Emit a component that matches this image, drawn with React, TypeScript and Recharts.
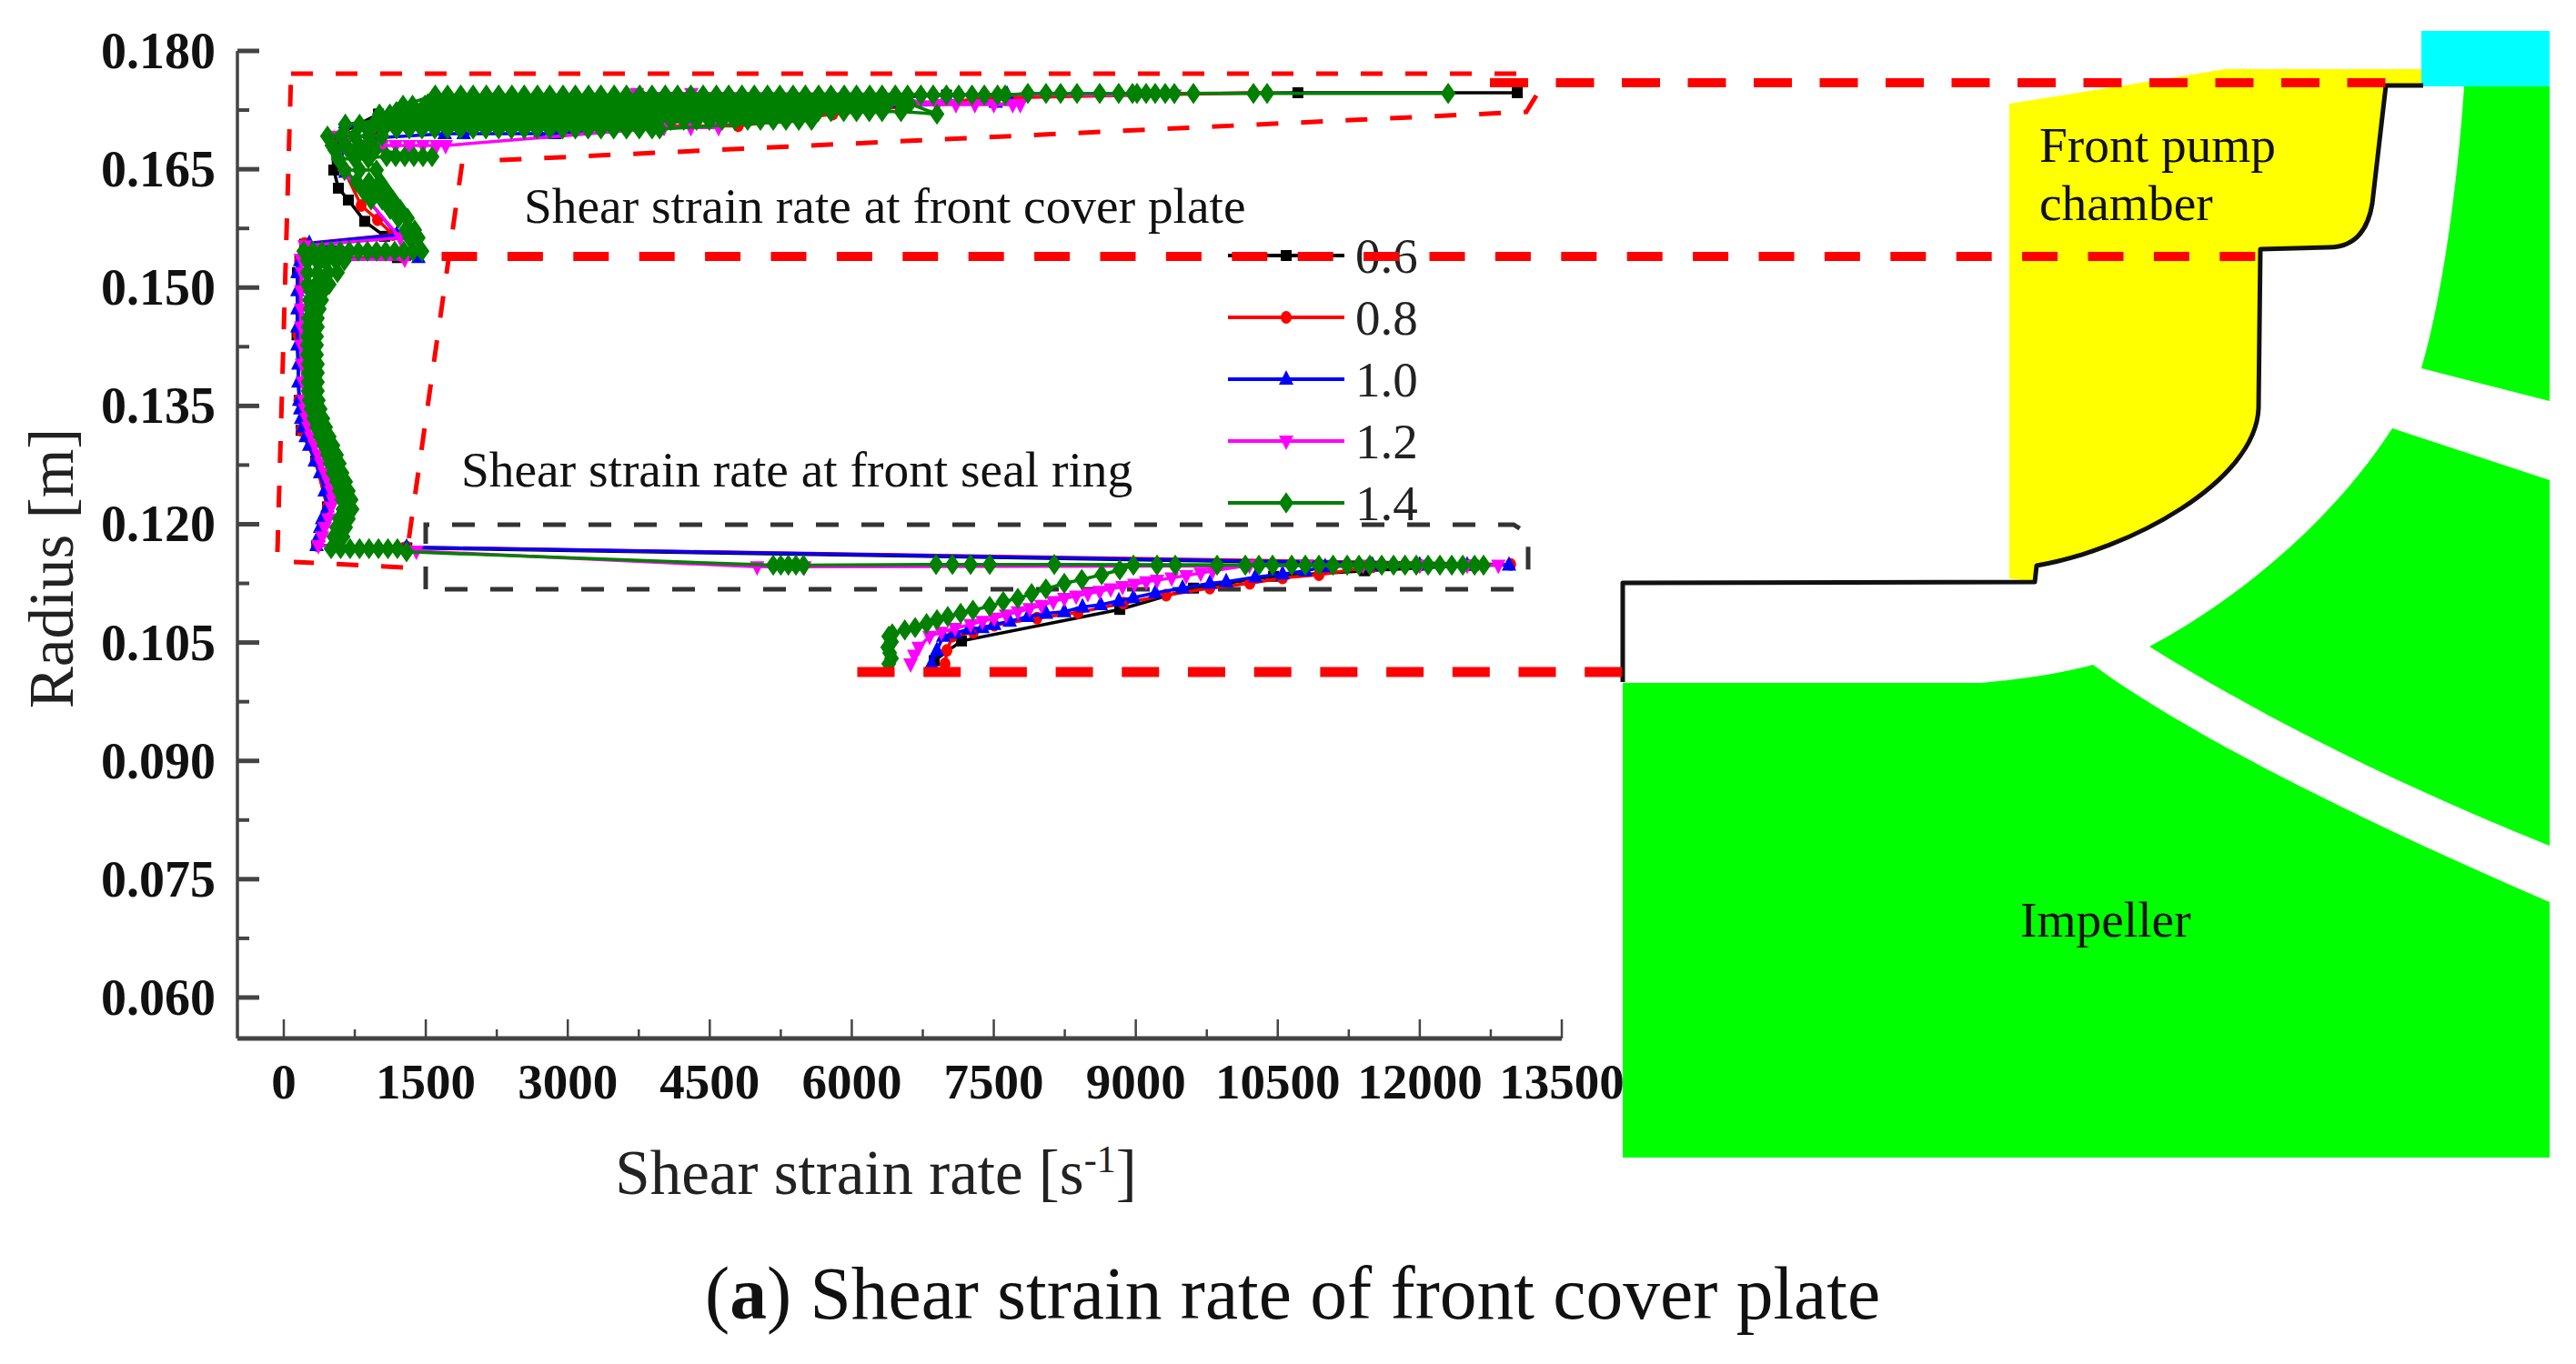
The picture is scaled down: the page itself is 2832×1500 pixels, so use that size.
import React from 'react'
import { ScatterChart, Scatter, XAxis, YAxis, Legend } from 'recharts'

// axis values
const xTicks = [0, 750, 1500, 2250, 3000, 3750, 4500, 5250, 6000, 6750, 7500, 8250, 9000, 9750, 10500, 11250, 12000, 12750, 13500]
const yTicks = [0.06, 0.0675, 0.075, 0.0825, 0.09, 0.0975, 0.105, 0.1125, 0.12, 0.1275, 0.135, 0.1425, 0.15, 0.1575, 0.165, 0.1725, 0.18]

// speed ratio series
const shear06 = [6871, 7159, 8831, 9609, 10455, 11416, 12569, 1300, 346, 461, 336, 183, 163, 140, 144, 170, 1200, 220, 1066, 855, 682, 577, 528, 509, 1000, 5000, 7000, 10712, 13030]
const radius06 = [0.1027, 0.1052, 0.1092, 0.1119, 0.1134, 0.1141, 0.1148, 0.117, 0.1173, 0.1222, 0.128, 0.1319, 0.1357, 0.144, 0.1519, 0.1536, 0.1538, 0.1555, 0.1565, 0.1584, 0.1611, 0.1626, 0.1649, 0.169, 0.172, 0.1735, 0.1744, 0.1747, 0.1747]

const shear08 = [6985, 7005, 7063, 7284, 7505, 7956, 8389, 8869, 9321, 9782, 10205, 10551, 10935, 11500, 12000, 12500, 12960, 1297, 346, 461, 336, 183, 160, 150, 170, 1260, 220, 1153, 990, 817, 650, 560, 1000, 3730, 4800, 5800, 7400, 10243, 10387]
const radius08 = [0.1023, 0.104, 0.1058, 0.1063, 0.1072, 0.1081, 0.1088, 0.11, 0.111, 0.1119, 0.1125, 0.1132, 0.1136, 0.1146, 0.1148, 0.1148, 0.1149, 0.1171, 0.1173, 0.1222, 0.128, 0.1319, 0.1357, 0.144, 0.1534, 0.1539, 0.1556, 0.1567, 0.1586, 0.1604, 0.1646, 0.168, 0.17, 0.1705, 0.1705, 0.172, 0.174, 0.1747, 0.1747]

const shear10 = [6842, 6899, 6966, 7091, 7235, 7380, 7505, 7668, 7860, 8052, 8245, 8437, 8629, 8821, 8975, 9206, 9494, 9782, 9955, 10263, 10551, 10791, 11000, 11500, 12000, 12500, 12943, 1297, 346, 365, 384, 404, 461, 432, 384, 327, 269, 231, 202, 183, 173, 163, 154, 154, 144, 144, 144, 144, 144, 173, 1422, 269, 1192, 650, 600, 650, 1000, 1700, 1900, 2700, 2860, 4300, 6000, 7520, 7640]
const radius10 = [0.1023, 0.104, 0.1058, 0.1062, 0.1067, 0.1069, 0.1073, 0.1077, 0.1083, 0.1087, 0.1089, 0.1095, 0.1098, 0.1103, 0.1107, 0.1113, 0.1119, 0.1125, 0.1127, 0.1133, 0.1137, 0.1141, 0.1146, 0.1148, 0.1148, 0.1148, 0.1148, 0.1171, 0.1173, 0.1184, 0.1196, 0.1207, 0.1222, 0.1242, 0.1265, 0.128, 0.13, 0.1311, 0.1323, 0.1334, 0.1346, 0.1357, 0.138, 0.1403, 0.1427, 0.145, 0.1473, 0.1496, 0.1519, 0.1534, 0.1538, 0.1556, 0.1567, 0.1646, 0.168, 0.1709, 0.169, 0.1695, 0.1695, 0.1695, 0.1695, 0.1712, 0.1728, 0.1735, 0.1745]

const shear12 = [6621, 6660, 6707, 6822, 6947, 7091, 7255, 7380, 7505, 7629, 7754, 7879, 8004, 8129, 8245, 8370, 8494, 8619, 8735, 8860, 8985, 9110, 9225, 9379, 9533, 9686, 9811, 10200, 10800, 11400, 12000, 12500, 12830, 5500, 5000, 1400, 365, 404, 432, 471, 500, 519, 500, 471, 432, 394, 365, 327, 288, 259, 240, 221, 211, 202, 192, 183, 183, 183, 183, 192, 183, 1278, 221, 1230, 640, 560, 500, 1038, 1182, 1326, 1470, 1614, 1710, 4017, 4300, 4593, 5458, 5900, 6300, 6600, 6900, 7100, 7300, 7500, 7700, 7780, 3730, 4305, 9410]
const radius12 = [0.1023, 0.1034, 0.1044, 0.1058, 0.1063, 0.1068, 0.1073, 0.1077, 0.1081, 0.1085, 0.1089, 0.1093, 0.1097, 0.1102, 0.1106, 0.1109, 0.1112, 0.1115, 0.1118, 0.1121, 0.1124, 0.1127, 0.1129, 0.1132, 0.1135, 0.1138, 0.1141, 0.1148, 0.1148, 0.1148, 0.1148, 0.1148, 0.1148, 0.1146, 0.1146, 0.1166, 0.1173, 0.1184, 0.1196, 0.1207, 0.1222, 0.1231, 0.1242, 0.1254, 0.1265, 0.1277, 0.1288, 0.13, 0.1311, 0.1323, 0.1334, 0.1346, 0.1357, 0.138, 0.1403, 0.1427, 0.145, 0.1473, 0.1496, 0.1519, 0.1536, 0.1536, 0.1553, 0.1563, 0.1646, 0.1669, 0.1692, 0.168, 0.168, 0.168, 0.168, 0.168, 0.168, 0.1703, 0.1703, 0.1703, 0.1732, 0.1732, 0.1732, 0.1732, 0.1732, 0.1732, 0.1732, 0.1732, 0.1732, 0.1732, 0.1746, 0.1746, 0.1744]

// the 1.4 curve is the top layer, kept as rows of [radius, shear readings]
const rows14: [number, number[]][] = [
  [0.1023, [6390]], [0.103, [6420]], [0.1037, [6400]], [0.1044, [6380]], [0.1051, [6420]], [0.1058, [6390]],
  [0.1061, [6428]], [0.1066, [6560]], [0.1069, [6669]], [0.1074, [6790]], [0.1079, [6900]], [0.1083, [7014]],
  [0.1087, [7150]], [0.1091, [7280]], [0.1096, [7457]], [0.1102, [7600]], [0.1106, [7754]], [0.1112, [7900]],
  [0.1118, [8050]], [0.1125, [8245]], [0.113, [8430]], [0.1136, [8640]], [0.1142, [8831]],
  [0.1148, [8975, 9225, 9417, 9859, 10157, 10301, 10445, 10647, 10791, 10935, 11084, 11233, 11358, 11473, 11598, 11723, 11844, 11963, 12088, 12213, 12338, 12454, 12579, 12674]],
  [0.1149, [8139, 7457, 7255, 7063, 6890]],
  [0.1148, [5490, 5410, 5330, 5250, 5170]],
  [0.1165, [1297]],
  [0.1169, [1200, 1100, 1000, 900, 800, 700, 600, 500]],
  [0.1184, [529, 577, 625]], [0.1196, [557, 605, 653]], [0.1207, [586, 634, 682]], [0.1219, [625, 673, 721]], [0.1231, [615, 663, 711]],
  [0.1242, [586, 634, 682]], [0.1254, [557, 605, 653]], [0.1265, [519, 567, 615]], [0.1277, [490, 538, 586]], [0.1288, [461, 509, 557]],
  [0.13, [423, 471, 519]], [0.1311, [384, 432, 480]], [0.1323, [346, 394, 442]], [0.1334, [317, 365, 413]], [0.1346, [288, 336, 384]],
  [0.1357, [269, 317, 365]], [0.1369, [259, 307, 355]], [0.138, [259, 307, 355]], [0.1392, [259, 307, 355]], [0.1403, [259, 307, 355]],
  [0.1415, [250, 298, 346]], [0.1427, [250, 298, 346]], [0.1438, [250, 298, 346]], [0.145, [259, 307, 355]], [0.1461, [259, 307, 355]],
  [0.1473, [279, 327, 375]], [0.1484, [269, 336, 400]], [0.1496, [280, 350, 420]], [0.1504, [250, 340, 410, 480]],
  [0.1519, [250, 355, 470, 567]], [0.1534, [250, 350, 450, 550, 640]],
  [0.1546, [211, 307, 403, 500, 596, 692, 788, 884, 980, 1076, 1172, 1268, 1364, 1460]],
  [0.1563, [1420, 1330]], [0.1573, [1288, 1383]], [0.1588, [1307, 1211]], [0.1599, [1124, 1230]],
  [0.1611, [1153, 1040, 922]], [0.1622, [846, 970, 1086]], [0.1634, [1018, 900, 769]], [0.1649, [644, 800, 980]],
  [0.1663, [894, 750, 577]], [0.1666, [1086, 1182, 1278, 1374, 1470, 1566]], [0.1674, [960, 840, 690, 540]],
  [0.168, [509, 653, 797, 942]], [0.1692, [1038, 894, 750, 605, 461]],
  [0.1701, [920, 1055, 1190, 1325, 1460, 1595, 1730, 1865, 2000, 2135, 2270, 2405, 2540, 2675, 2810, 2945, 3080, 3215, 3350, 3485, 3620, 3755, 3890, 3970]],
  [0.1712, [5575, 5440, 5305, 5170, 5035, 4900, 4765, 4630, 4495, 4360, 4225, 4090, 3955, 3820, 3685, 3550, 3415, 3280, 3145, 3010, 2875, 2740, 2605, 2470, 2335, 2200, 2065, 1930, 1795, 1660, 1525, 1390, 1255, 1120, 1010]],
  [0.1707, [650, 800, 950]],
  [0.172, [1010, 1120]],
  [0.1723, [1190, 1325, 1460, 1595, 1730, 1865, 2000, 2135, 2270, 2405, 2540, 2675, 2810, 2945, 3080, 3215, 3350, 3485, 3620, 3755, 3890, 4025, 4160, 4295, 4430, 4565, 4700, 4835, 4970, 5105, 5240, 5375, 5510, 5645, 5780, 5915, 6050, 6185, 6320, 6520]],
  [0.172, [6900]],
  [0.1733, [6610, 6520, 6380, 6250, 6110, 5980, 5840, 5710, 5570, 5440, 5300, 5170, 5030, 4900, 4760, 4630, 4490, 4360, 4220, 4090, 3950, 3820, 3680, 3550, 3410, 3280, 3140, 3010, 2870, 2740, 2600, 2470, 2330, 2200, 2060, 1930, 1790, 1660, 1520]],
  [0.1731, [1490, 1360, 1260]],
  [0.1744, [1600, 1730, 1870, 2000, 2140, 2270, 2410, 2540, 2680, 2810, 2950, 3080, 3220, 3350, 3490, 3620, 3760, 3890, 4030, 4160, 4300, 4430, 4570, 4700, 4840, 4970, 5110, 5240, 5380, 5510, 5650, 5780, 5920, 6050, 6190, 6320, 6460, 6590, 6730, 6860, 7000, 7130, 7270, 7400, 7540, 7620]],
  [0.1746, [7860, 8052, 8206, 8379, 8619, 8820, 8965, 9013, 9109, 9205, 9311, 9407, 9609, 10243, 10387, 12300]],
]

const zip = (xs: number[], ys: number[]) => xs.map((x, i) => ({ x, y: ys[i] }))
const data14 = rows14.flatMap(([y, xs]) => xs.map(x => ({ x, y })))

const series = [
  { name: '0.6', color: '#000000', kind: 'square', data: zip(shear06, radius06) },
  { name: '0.8', color: '#ff0000', kind: 'circle', data: zip(shear08, radius08) },
  { name: '1.0', color: '#0000ff', kind: 'up', data: zip(shear10, radius10) },
  { name: '1.2', color: '#ff00ff', kind: 'down', data: zip(shear12, radius12) },
  { name: '1.4', color: '#008000', kind: 'diamond', data: data14 },
]

const serif = '"Liberation Serif", serif'
const axisColor = '#444'

function Marker({ cx, cy, kind, color }: any) {
  if (cx == null || cy == null) return null
  if (kind === 'square') return <rect x={cx - 6} y={cy - 6} width={12} height={12} fill={color} />
  if (kind === 'circle') return <ellipse cx={cx} cy={cy} rx={6} ry={7} fill={color} />
  if (kind === 'up') return <path d={`M${cx} ${cy - 10}L${cx + 8} ${cy + 6}L${cx - 8} ${cy + 6}Z`} fill={color} />
  if (kind === 'down') return <path d={`M${cx} ${cy + 10}L${cx + 8} ${cy - 6}L${cx - 8} ${cy - 6}Z`} fill={color} />
  return <path d={`M${cx} ${cy - 10}L${cx + 7} ${cy}L${cx} ${cy + 10}L${cx - 7} ${cy}Z`} fill={color} stroke={color} strokeWidth={2} />
}

function XTick({ x, y, payload, index }: any) {
  const major = index % 2 === 0
  return (
    <g>
      <line x1={x} x2={x} y1={y} y2={y - (major ? 21 : 10)} stroke={axisColor} strokeWidth={2.5} />
      {major && (
        <text x={x} y={y + 66} textAnchor="middle" fontFamily={serif} fontWeight="bold" fontSize={55} fill="#111">
          {payload.value}
        </text>
      )}
    </g>
  )
}

function YTick({ x, y, payload, index }: any) {
  const major = index % 2 === 0
  return (
    <g>
      <line x1={x} x2={x + (major ? 24 : 13)} y1={y} y2={y} stroke={axisColor} strokeWidth={major ? 5 : 4} />
      {major && (
        <text x={x - 24} y={y + 19} textAnchor="end" fontFamily={serif} fontWeight="bold" fontSize={56} fill="#111">
          {payload.value.toFixed(3)}
        </text>
      )}
    </g>
  )
}

function XTitle({ viewBox }: any) {
  return (
    <text x={viewBox.x + viewBox.width / 2 - 26} y={1313} textAnchor="middle" fontFamily={serif} fontSize={69} fill="#222">
      Shear strain rate [s<tspan dy={-24} fontSize={42}>-1</tspan><tspan dy={24}>]</tspan>
    </text>
  )
}

function YTitle() {
  return (
    <text transform="translate(80 625) rotate(-90)" textAnchor="middle" fontFamily={serif} fontSize={69} fill="#222">
      Radius [m]
    </text>
  )
}

function SpeedLegend() {
  return (
    <svg width={300} height={340} style={{ display: 'block', overflow: 'visible' }}>
      {series.map((s, i) => {
        const y = 31 + i * 68
        return (
          <g key={s.name}>
            <line x1={0} x2={128} y1={y} y2={y} stroke={s.color} strokeWidth={4} />
            <Marker cx={64} cy={y} kind={s.kind} color={s.color} />
            <text x={140} y={y + 19} fontFamily={serif} fontSize={55} fill="#222">
              {s.name}
            </text>
          </g>
        )
      })}
    </svg>
  )
}

const layer: React.CSSProperties = { position: 'absolute', left: 0, top: 0 }
const yellowEdge = 'L2608 224 Q2600 272 2560 272 L2485 274 L2483 449 C2480 530 2340 605 2239 622 L2237 640'

export default function App() {
  return (
    <div style={{ ...layer, width: 2832, height: 1500, background: '#fff', overflow: 'hidden' }}>
      {/* annotation boxes sit under the curves */}
      <svg width={2832} height={1500} style={layer}>
        <path d="M320 81 L1689 81 M1689 105 L1678 123 L530 177 M508 180 L448 603 M443 624 L323 618 M305 607 L320 81" fill="none" stroke="#ff0000" strokeWidth={5} strokeDasharray="24 25" />
        <path d="M468 648 L468 577 L1664 577 L1680 587 L1680 635 M1664 648 L468 648" fill="none" stroke="#333" strokeWidth={5} strokeDasharray="25 25" />
        <line x1={413} x2={452} y1={282} y2={282} stroke="#ff0000" strokeWidth={10} />
      </svg>

      <div style={layer}>
        <ScatterChart width={2832} height={1500} margin={{ top: 56, right: 1115, bottom: 0, left: 0 }}>
          <XAxis
            type="number"
            dataKey="x"
            domain={[-490, 13500]}
            ticks={xTicks}
            interval={0}
            height={358}
            tickSize={0}
            tickMargin={0}
            tickLine={false}
            tick={<XTick />}
            axisLine={{ stroke: axisColor, strokeWidth: 5 }}
            label={<XTitle />}
          />
          <YAxis
            type="number"
            dataKey="y"
            domain={[0.05481, 0.18]}
            ticks={yTicks}
            interval={0}
            width={261}
            tickSize={0}
            tickMargin={0}
            tickLine={false}
            tick={<YTick />}
            axisLine={{ stroke: axisColor, strokeWidth: 3.5 }}
            label={<YTitle />}
          />
          <Legend
            layout="vertical"
            align="center"
            verticalAlign="middle"
            content={<SpeedLegend />}
            wrapperStyle={{ left: 1350, top: 250, width: 300, height: 340 }}
          />
          {series.map(s => (
            <Scatter
              key={s.name}
              name={s.name}
              data={s.data}
              fill={s.color}
              line={{ stroke: s.color, strokeWidth: 3.5 }}
              lineType="joint"
              isAnimationActive={false}
              shape={(p: any) => <Marker cx={p.cx} cy={p.cy} kind={s.kind} color={s.color} />}
            />
          ))}
        </ScatterChart>
      </div>

      {/* pump section drawing and the thick guide lines */}
      <svg width={2832} height={1500} style={layer}>
        <path d={`M2209 114 L2447 76 L2664 76 L2664 92 L2623 92 ${yellowEdge} L2209 636 Z`} fill="#ffff00" />
        <rect x={2662} y={34} width={141} height={61} fill="#00ffff" />
        <path d="M2709 95 L2803 95 L2803 441 L2662 405 C2680 345 2700 230 2709 95 Z" fill="#00ff00" />
        <path d="M2363 711 C2450 665 2560 580 2630 471 L2803 528 L2803 930 C2640 865 2490 790 2363 711 Z" fill="#00ff00" />
        <path d="M1784 751 L2177 751 Q2250 745 2301 731 C2400 805 2600 905 2803 992 L2803 1273 L1784 1273 Z" fill="#00ff00" />
        <path d={`M2664 94 L2623 94 ${yellowEdge} L1784 641 L1784 750`} fill="none" stroke="#111" strokeWidth={5} strokeLinejoin="round" />
        <line x1={1638} x2={2623} y1={91} y2={91} stroke="#ff0000" strokeWidth={10} strokeDasharray="42 30.5" />
        <line x1={485.5} x2={2486} y1={282} y2={282} stroke="#ff0000" strokeWidth={10} strokeDasharray="39 33.4" />
        <line x1={942.5} x2={1784} y1={739} y2={739} stroke="#ff0000" strokeWidth={11} strokeDasharray="41 31.7" />
        <g fontFamily={serif} fontSize={55.4} fill="#111">
          <text x={576} y={245}>Shear strain rate at front cover plate</text>
          <text x={507} y={535}>Shear strain rate at front seal ring</text>
          <text x={2242} y={178}>Front pump</text>
          <text x={2242} y={242}>chamber</text>
          <text x={2221} y={1030}>Impeller</text>
        </g>
        <text x={775} y={1450} fontFamily={serif} fontSize={81.5} fill="#111">
          (<tspan fontWeight="bold">a</tspan>) Shear strain rate of front cover plate
        </text>
      </svg>
    </div>
  )
}
